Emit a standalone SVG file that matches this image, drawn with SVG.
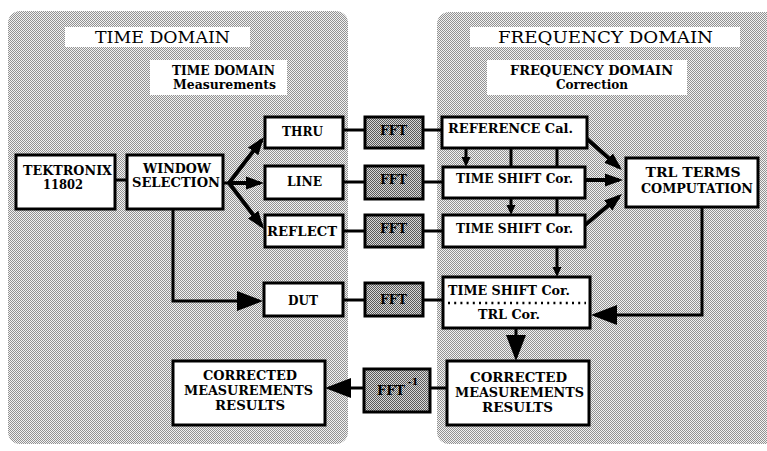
<svg xmlns="http://www.w3.org/2000/svg" width="767" height="451" viewBox="0 0 767 451">
  <defs>
    <!-- dithered grey used for the two domain panels -->
    <pattern id="stipple" width="2" height="2" patternUnits="userSpaceOnUse">
      <rect width="2" height="2" fill="#f2f2f2"/>
      <rect width="1" height="1" fill="#929292"/>
      <rect x="1" y="1" width="1" height="1" fill="#929292"/>
    </pattern>
    <!-- darker dither for the FFT blocks -->
    <pattern id="stippleDark" width="2" height="2" patternUnits="userSpaceOnUse">
      <rect width="2" height="2" fill="#d8d8d8"/>
      <rect width="1" height="1" fill="#5a5a5a"/>
      <rect x="1" y="1" width="1" height="1" fill="#5a5a5a"/>
    </pattern>
    <marker id="arrSmall" markerUnits="userSpaceOnUse" markerWidth="12" markerHeight="12" viewBox="0 -6 12 12" refX="6" refY="0" orient="auto">
      <path d="M0,-4.5 L10,0 L0,4.5 Z" fill="#000"/>
    </marker>
    <marker id="arrMid" markerUnits="userSpaceOnUse" markerWidth="20" markerHeight="16" viewBox="0 -8 20 16" refX="14" refY="0" orient="auto">
      <path d="M0,-6.5 L18,0 L0,6.5 Z" fill="#000"/>
    </marker>
    <marker id="arrBig" markerUnits="userSpaceOnUse" markerWidth="28" markerHeight="24" viewBox="0 -12 28 24" refX="22" refY="0" orient="auto">
      <path d="M0,-10 L26,0 L0,10 Z" fill="#000"/>
    </marker>
  </defs>
  <style>
    .panel { fill: url(#stipple); }
    .label { fill: #ffffff; }
    .box { fill: #ffffff; stroke: #000; stroke-width: 3; }
    .fft { fill: url(#stippleDark); stroke: #000; stroke-width: 3; }
    .t { font-family: "DejaVu Serif", "Liberation Serif", serif; font-weight: bold; font-size: 13.5px; fill: #000; text-anchor: middle; }
    .t2 { font-size: 12px; }
    .title { font-family: "DejaVu Serif", "Liberation Serif", serif; font-weight: normal; font-size: 17px; fill: #000; text-anchor: middle; }
    .wire { fill: none; stroke: #000; stroke-width: 3; }
    .fan { fill: none; stroke: #000; stroke-width: 4; }
  </style>

  <rect width="767" height="451" fill="#ffffff"/>

  <!-- domain panels -->
  <g id="time-domain-panel">
    <rect class="panel" x="8" y="11" width="340" height="433" rx="12"/>
    <rect class="label" x="65" y="27" width="185" height="20"/>
    <text class="title" x="162.5" y="43" textLength="135" lengthAdjust="spacingAndGlyphs">TIME DOMAIN</text>
    <rect class="label" x="150" y="60" width="137" height="35"/>
    <text class="t t2" x="223.5" y="74.5" textLength="103" lengthAdjust="spacingAndGlyphs">TIME DOMAIN</text>
    <text class="t t2" x="224.5" y="89" textLength="103" lengthAdjust="spacingAndGlyphs">Measurements</text>
  </g>
  <g id="frequency-domain-panel">
    <rect class="panel" x="437" y="12" width="345" height="432" rx="12"/>
    <rect class="label" x="470" y="27" width="270" height="20"/>
    <text class="title" x="605.5" y="43" textLength="215" lengthAdjust="spacingAndGlyphs">FREQUENCY DOMAIN</text>
    <rect class="label" x="487" y="60" width="200" height="35"/>
    <text class="t t2" x="591.5" y="74.5" textLength="163" lengthAdjust="spacingAndGlyphs">FREQUENCY DOMAIN</text>
    <text class="t t2" x="592" y="89" textLength="72" lengthAdjust="spacingAndGlyphs">Correction</text>
  </g>

  <!-- connectors -->
  <g id="connectors">
    <line class="wire" x1="115" y1="180" x2="127" y2="180"/>
    <line class="wire" x1="223" y1="183" x2="230" y2="183"/>
    <line class="fan" x1="229" y1="183" x2="261.6" y2="140.2" marker-end="url(#arrMid)"/>
    <line class="fan" x1="229" y1="183" x2="260" y2="183" marker-end="url(#arrMid)"/>
    <line class="fan" x1="229" y1="183" x2="261.6" y2="225.8" marker-end="url(#arrMid)"/>
    <polyline class="wire" points="173,209 173,301 259,301" marker-end="url(#arrBig)"/>

    <line class="wire" x1="343" y1="130" x2="365" y2="130"/>
    <line class="wire" x1="343" y1="182" x2="365" y2="182"/>
    <line class="wire" x1="343" y1="231" x2="365" y2="231"/>
    <line class="wire" x1="343" y1="300" x2="365" y2="300"/>
    <line class="wire" x1="423" y1="130" x2="442" y2="130"/>
    <line class="wire" x1="423" y1="182" x2="443" y2="182"/>
    <line class="wire" x1="423" y1="231" x2="443" y2="231"/>
    <line class="wire" x1="423" y1="300" x2="443" y2="300"/>

    <line class="wire" x1="466" y1="148" x2="466" y2="163" marker-end="url(#arrSmall)"/>
    <line class="wire" x1="511" y1="148" x2="511" y2="211" marker-end="url(#arrSmall)"/>
    <line class="wire" x1="557" y1="148" x2="557" y2="273" marker-end="url(#arrSmall)"/>

    <line class="fan" x1="586" y1="138" x2="619" y2="167.3" marker-end="url(#arrMid)"/>
    <line class="fan" x1="585" y1="180" x2="619" y2="180" marker-end="url(#arrMid)"/>
    <line class="fan" x1="585" y1="225" x2="618.9" y2="196.6" marker-end="url(#arrMid)"/>

    <polyline class="wire" points="702,207 702,315 595,315" marker-end="url(#arrBig)"/>
    <line class="wire" x1="516" y1="328" x2="516" y2="357" marker-end="url(#arrBig)"/>
    <line class="wire" x1="447" y1="388" x2="430" y2="388"/>
    <line class="wire" x1="364" y1="388" x2="329" y2="388" marker-end="url(#arrBig)"/>
  </g>

  <!-- time domain nodes -->
  <g id="tektronix">
    <rect class="box" x="16" y="155" width="99" height="54"/>
    <text class="t t2" x="67.5" y="174.5" textLength="89" lengthAdjust="spacingAndGlyphs">TEKTRONIX</text>
    <text class="t t2" x="63" y="189" textLength="40" lengthAdjust="spacingAndGlyphs">11802</text>
  </g>
  <g id="window-selection">
    <rect class="box" x="127" y="155" width="96" height="54"/>
    <text class="t t2" x="177" y="172.5" textLength="68" lengthAdjust="spacingAndGlyphs">WINDOW</text>
    <text class="t t2" x="176" y="187" textLength="88" lengthAdjust="spacingAndGlyphs">SELECTION</text>
  </g>
  <g id="thru">
    <rect class="box" x="265" y="117" width="78" height="31"/>
    <text class="t" x="302.5" y="136" textLength="41" lengthAdjust="spacingAndGlyphs">THRU</text>
  </g>
  <g id="line">
    <rect class="box" x="265" y="166" width="78" height="33"/>
    <text class="t" x="304.5" y="186" textLength="35" lengthAdjust="spacingAndGlyphs">LINE</text>
  </g>
  <g id="reflect">
    <rect class="box" x="265" y="215" width="78" height="32"/>
    <text class="t" x="302" y="236" textLength="70" lengthAdjust="spacingAndGlyphs">REFLECT</text>
  </g>
  <g id="dut">
    <rect class="box" x="264" y="283" width="79" height="33"/>
    <text class="t" x="303" y="305" textLength="30" lengthAdjust="spacingAndGlyphs">DUT</text>
  </g>
  <g id="corrected-time">
    <rect class="box" x="173" y="361" width="152" height="64"/>
    <text class="t t2" x="250" y="380" textLength="94" lengthAdjust="spacingAndGlyphs">CORRECTED</text>
    <text class="t t2" x="248.5" y="395" textLength="129" lengthAdjust="spacingAndGlyphs">MEASUREMENTS</text>
    <text class="t t2" x="250" y="410" textLength="70" lengthAdjust="spacingAndGlyphs">RESULTS</text>
  </g>

  <!-- FFT blocks -->
  <g id="fft-thru">
    <rect class="fft" x="365" y="117" width="58" height="31"/>
    <text class="t" x="393.5" y="135" textLength="27" lengthAdjust="spacingAndGlyphs">FFT</text>
  </g>
  <g id="fft-line">
    <rect class="fft" x="365" y="166" width="58" height="33"/>
    <text class="t" x="393.5" y="184" textLength="27" lengthAdjust="spacingAndGlyphs">FFT</text>
  </g>
  <g id="fft-reflect">
    <rect class="fft" x="365" y="215" width="58" height="32"/>
    <text class="t" x="393.5" y="233" textLength="27" lengthAdjust="spacingAndGlyphs">FFT</text>
  </g>
  <g id="fft-dut">
    <rect class="fft" x="365" y="283" width="58" height="33"/>
    <text class="t" x="393.5" y="304" textLength="27" lengthAdjust="spacingAndGlyphs">FFT</text>
  </g>
  <g id="fft-inverse">
    <rect class="fft" x="364" y="369" width="66" height="43"/>
    <text class="t" x="391" y="395" textLength="28" lengthAdjust="spacingAndGlyphs">FFT</text>
    <text class="t" x="413" y="385" style="font-size:10px">-1</text>
  </g>

  <!-- frequency domain nodes -->
  <g id="reference-cal">
    <rect class="box" x="442" y="117" width="145" height="31"/>
    <text class="t" x="510.5" y="133" textLength="125" lengthAdjust="spacingAndGlyphs">REFERENCE Cal.</text>
  </g>
  <g id="time-shift-1">
    <rect class="box" x="443" y="167" width="142" height="31"/>
    <text class="t" x="514.5" y="183" textLength="117" lengthAdjust="spacingAndGlyphs">TIME SHIFT Cor.</text>
  </g>
  <g id="time-shift-2">
    <rect class="box" x="443" y="215" width="142" height="32"/>
    <text class="t" x="514.5" y="233" textLength="117" lengthAdjust="spacingAndGlyphs">TIME SHIFT Cor.</text>
  </g>
  <g id="time-shift-trl">
    <rect class="box" x="443" y="277" width="147" height="51"/>
    <text class="t" x="509" y="295" textLength="122" lengthAdjust="spacingAndGlyphs">TIME SHIFT Cor.</text>
    <line x1="448" y1="303" x2="586" y2="303" stroke="#000" stroke-width="2.5" stroke-dasharray="2 4.2"/>
    <text class="t" x="509" y="319" textLength="62" lengthAdjust="spacingAndGlyphs">TRL Cor.</text>
  </g>
  <g id="trl-terms">
    <rect class="box" x="626" y="158" width="132" height="49"/>
    <text class="t t2" x="693" y="177" textLength="95" lengthAdjust="spacingAndGlyphs">TRL TERMS</text>
    <text class="t t2" x="697" y="193" textLength="112" lengthAdjust="spacingAndGlyphs">COMPUTATION</text>
  </g>
  <g id="corrected-frequency">
    <rect class="box" x="447" y="361" width="142" height="64"/>
    <text class="t t2" x="518.5" y="382" textLength="97" lengthAdjust="spacingAndGlyphs">CORRECTED</text>
    <text class="t t2" x="519.5" y="397" textLength="129" lengthAdjust="spacingAndGlyphs">MEASUREMENTS</text>
    <text class="t t2" x="517.5" y="412" textLength="71" lengthAdjust="spacingAndGlyphs">RESULTS</text>
  </g>
</svg>
